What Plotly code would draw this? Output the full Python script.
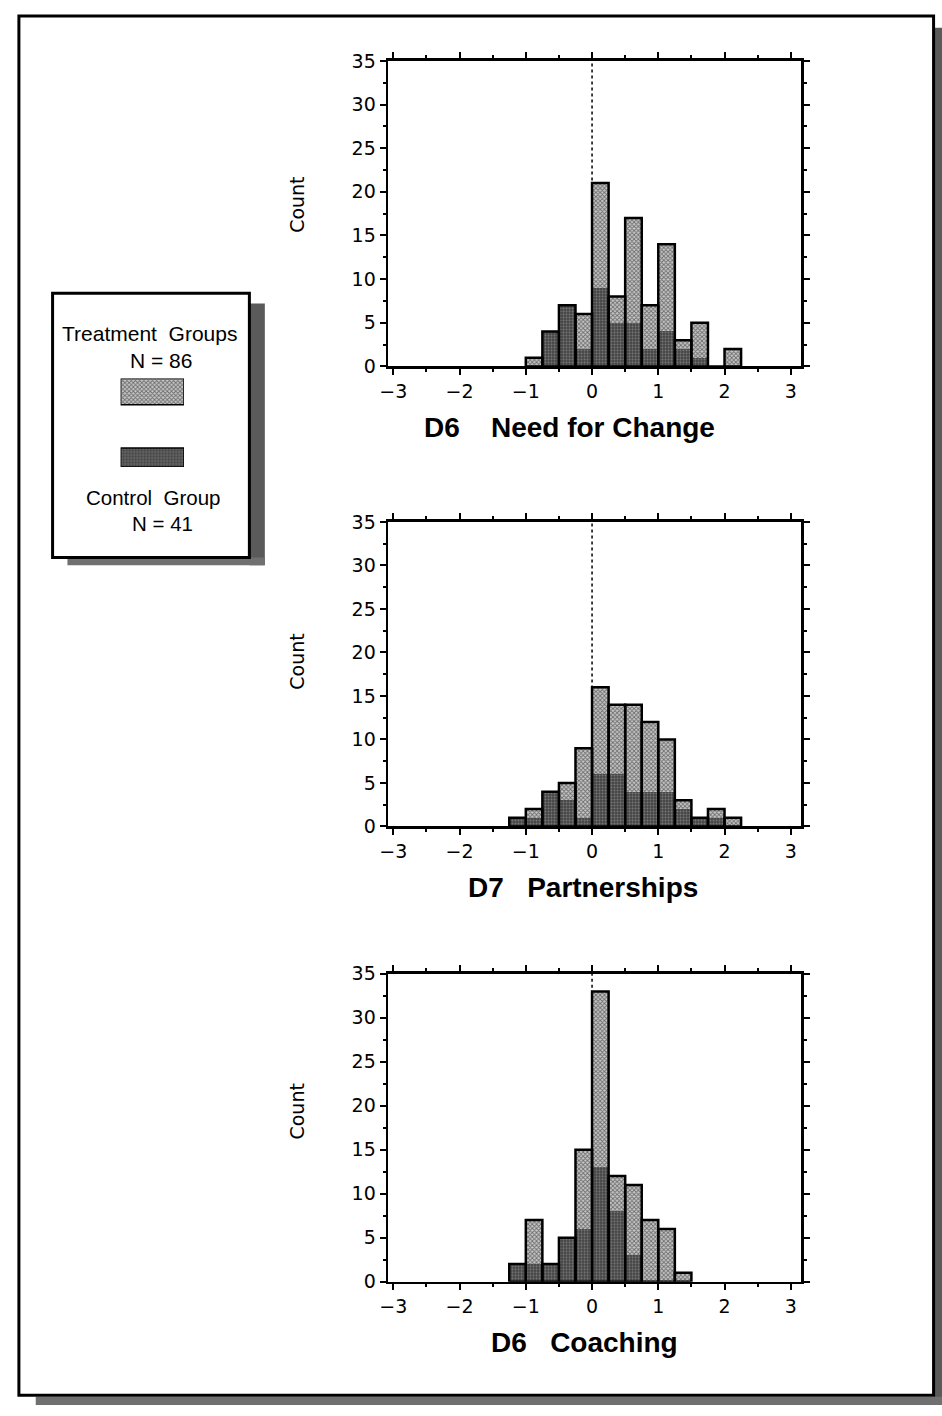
import numpy as np
import plotly.graph_objects as go

# ---------------- data ----------------
bin_width = 0.25

# D6 Need for Change
p1_bin_start = -1.0
p1_control   = [0, 4, 7, 2, 9, 5, 5, 2, 4, 2, 1, 0, 0]
p1_treatment = [1, 0, 0, 4, 12, 3, 12, 5, 10, 1, 4, 0, 2]

# D7 Partnerships
p2_bin_start = -1.25
p2_control   = [1, 1, 4, 3, 1, 6, 6, 4, 4, 4, 2, 1, 1, 0]
p2_treatment = [0, 1, 0, 2, 8, 10, 8, 10, 8, 6, 1, 0, 1, 1]

# D6 Coaching
p3_bin_start = -1.25
p3_control   = [2, 2, 2, 5, 6, 13, 8, 3, 0, 0, 0]
p3_treatment = [0, 5, 0, 0, 9, 20, 4, 8, 7, 6, 1]

titles = ["D6\u00a0\u00a0\u00a0\u00a0Need for Change",
          "D7\u00a0\u00a0\u00a0Partnerships",
          "D6\u00a0\u00a0\u00a0Coaching"]
x_ticks = [-3, -2, -1, 0, 1, 2, 3]
y_ticks = [0, 5, 10, 15, 20, 25, 30, 35]
legend_lines = ["Treatment\u00a0\u00a0Groups", "N = 86", "Control\u00a0\u00a0Group", "N = 41"]

# ---------------- layout helpers ----------------
W, H = 942, 1416
def px(x):
    return x / W
def py(y):
    return 1 - y / H

LIGHT = dict(shape="x", fgcolor="#111111", bgcolor="#c8c8c8", size=3, solidity=0.5)
DARK = dict(shape=".", fgcolor="#b0b0b0", bgcolor="#444444", size=3, solidity=0.35)

TICK_FONT = dict(family="DejaVu Sans", size=19, color="black")

plot_boxes = [(50.7, 361.0), (519.0, 828.3), (978.0, 1290.7)]
x_left, x_right = 382.7, 800.0
title_pos = [(566, 423), (580, 890), (581, 1353)]
count_y = [197, 661, 1118]

fig = go.Figure()

datasets = [(p1_bin_start, p1_control, p1_treatment),
            (p2_bin_start, p2_control, p2_treatment),
            (p3_bin_start, p3_control, p3_treatment)]

for i, (start, ctrl, trt) in enumerate(datasets):
    n = len(ctrl)
    centers = start + bin_width * (np.arange(n) + 0.5)
    ctrl = np.array(ctrl)
    total = ctrl + np.array(trt)
    xa = "x" if i == 0 else f"x{i+1}"
    ya = "y" if i == 0 else f"y{i+1}"
    fig.add_trace(go.Bar(x=centers, y=total, width=bin_width, xaxis=xa, yaxis=ya,
                         marker=dict(color="#c8c8c8", pattern=LIGHT, line=dict(width=0)),
                         name="Treatment Groups", showlegend=False, hoverinfo="skip"))
    fig.add_trace(go.Bar(x=centers, y=ctrl, width=bin_width, xaxis=xa, yaxis=ya,
                         marker=dict(color="#444444", pattern=DARK, line=dict(width=0)),
                         name="Control Group", showlegend=False, hoverinfo="skip"))
    fig.add_trace(go.Bar(x=centers, y=total, width=bin_width, xaxis=xa, yaxis=ya,
                         marker=dict(color="rgba(0,0,0,0)", line=dict(color="black", width=2.5)),
                         showlegend=False, hoverinfo="skip"))

    top, bot = plot_boxes[i]
    axis_common = dict(showline=True, linecolor="black", linewidth=2.5, mirror="allticks",
                       ticks="outside", tickcolor="black", tickwidth=2, ticklen=6,
                       showgrid=False, zeroline=False, tickfont=TICK_FONT, fixedrange=True)
    fig.update_layout(**{
        ("xaxis" if i == 0 else f"xaxis{i+1}"): dict(
            axis_common, domain=[px(x_left), px(x_right)], range=[-3.08, 3.16],
            tickvals=x_ticks, anchor=ya,
            minor=dict(dtick=0.5, tick0=0, ticks="outside", ticklen=3, tickwidth=2, tickcolor="black")),
        ("yaxis" if i == 0 else f"yaxis{i+1}"): dict(
            axis_common, domain=[py(bot), py(top)], range=[0, 35],
            tickvals=y_ticks, anchor=xa,
            minor=dict(dtick=2.5, tick0=0, ticks="outside", ticklen=3, tickwidth=2, tickcolor="black")),
    })
    # dotted zero line
    fig.add_shape(type="line", xref=xa, yref=ya, x0=0, x1=0, y0=0, y1=35,
                  line=dict(color="black", width=1.5, dash="dot"), layer="below")
    # axis title
    tx, ty = title_pos[i]
    fig.add_annotation(x=px(tx), y=py(ty), xref="paper", yref="paper", showarrow=False,
                       text=f"<b>{titles[i]}</b>", xanchor="center", yanchor="middle",
                       font=dict(family="Liberation Sans", size=28, color="black"))
    fig.add_annotation(x=px(290.7), y=py(count_y[i]), xref="paper", yref="paper", showarrow=False,
                       text="Count", textangle=-90, xanchor="center", yanchor="middle",
                       font=dict(family="DejaVu Sans", size=19, color="black"))

# ---------------- legend box ----------------
fig.add_shape(type="rect", xref="paper", yref="paper", x0=px(243), x1=px(258.3), y0=py(563), y1=py(297),
              fillcolor="#5a5a5a", line=dict(width=0), layer="below")
fig.add_shape(type="rect", xref="paper", yref="paper", x0=px(59), x1=px(258.3), y0=py(563), y1=py(555),
              fillcolor="#707070", line=dict(width=0), layer="below")
fig.add_shape(type="rect", xref="paper", yref="paper", x0=px(44), x1=px(242.7), y0=py(555), y1=py(286.7),
              fillcolor="white", line=dict(color="black", width=3), layer="below")

# swatches drawn with the same bar patterns on a hidden axis
fig.add_trace(go.Bar(x=[0], y=[26.7], base=[0], width=1, xaxis="x4", yaxis="y4",
                     marker=dict(color="#c8c8c8", pattern=LIGHT, line=dict(color="black", width=1.5)),
                     showlegend=False, hoverinfo="skip"))
fig.add_trace(go.Bar(x=[0], y=[19.3], base=[70.7], width=1, xaxis="x4", yaxis="y4",
                     marker=dict(color="#444444", pattern=DARK, line=dict(color="black", width=1.5)),
                     showlegend=False, hoverinfo="skip"))
fig.update_layout(
    xaxis4=dict(domain=[px(112.7), px(176.7)], range=[-0.5, 0.5], visible=False, anchor="y4", fixedrange=True),
    yaxis4=dict(domain=[py(463.3), py(373.3)], range=[90, 0], visible=False, anchor="x4", fixedrange=True),
)

leg_pos = [(141.7, 327.5), (153, 355), (145.8, 494.5), (155, 520.5)]
leg_size = [21, 21, 20.5, 20.5]
for (lx, ly), txt, fs in zip(leg_pos, legend_lines, leg_size):
    fig.add_annotation(x=px(lx), y=py(ly), xref="paper", yref="paper", showarrow=False,
                       text=txt, xanchor="center", yanchor="middle",
                       font=dict(family="Liberation Sans", size=fs, color="black"))

# ---------------- page frame ----------------
fig.add_shape(type="rect", xref="paper", yref="paper", x0=px(934.5), x1=px(942), y0=py(1416), y1=py(17),
              fillcolor="#5a5a5a", line=dict(width=0), layer="below")
fig.add_shape(type="rect", xref="paper", yref="paper", x0=px(27), x1=px(942), y0=py(1416), y1=py(1407.5),
              fillcolor="#707070", line=dict(width=0), layer="below")
fig.add_shape(type="rect", xref="paper", yref="paper", x0=px(10), x1=px(933.5), y0=py(1406), y1=py(5),
              fillcolor="rgba(0,0,0,0)", line=dict(color="black", width=3), layer="below")

fig.update_layout(
    width=W, height=H, margin=dict(l=0, r=0, t=0, b=0),
    paper_bgcolor="white", plot_bgcolor="rgba(0,0,0,0)",
    barmode="overlay", bargap=0, showlegend=False,
)

fig.write_html("out.html", config={"displayModeBar": False, "staticPlot": True},
               post_script="document.body.style.margin='0';document.body.style.overflow='hidden';")
